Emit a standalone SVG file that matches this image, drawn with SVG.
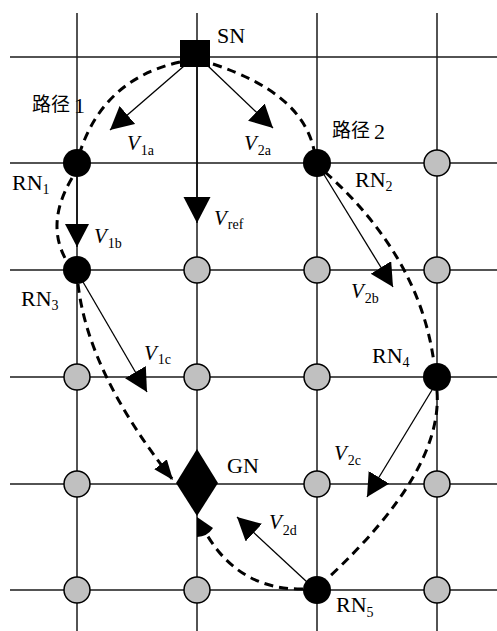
<svg xmlns="http://www.w3.org/2000/svg" width="497" height="631" viewBox="0 0 497 631">
<defs>
<style>
.grid{stroke:#1a1a1a;stroke-width:1.5;fill:none}
.dash{stroke:#000;stroke-width:3;fill:none;stroke-dasharray:9 6}
.vec{stroke:#000;stroke-width:1.3;fill:none}
.rn{fill:#000}
.gray{fill:#c0c0c0;stroke:#000;stroke-width:1.5}
.lbl{font-family:"Liberation Serif","Times New Roman",serif;font-size:22px;fill:#000}
.v{font-family:"Liberation Serif","Times New Roman",serif;font-size:21px;font-style:italic;fill:#000}
.sub{font-family:"Liberation Serif","Times New Roman",serif;font-size:14px;font-style:normal;fill:#000}
.cn{font-family:"Noto Sans CJK SC","Noto Sans CJK JP",sans-serif;font-size:19px;fill:#000}
</style>
<marker id="ah" markerUnits="userSpaceOnUse" markerWidth="24" markerHeight="26" refX="23" refY="12" orient="auto">
<path d="M0,0 L23,12 L0,24 Z" fill="#000"/>
</marker>
<marker id="ahBig" markerUnits="userSpaceOnUse" markerWidth="28" markerHeight="28" refX="26" refY="13.5" orient="auto">
<path d="M0,0 L26,13.5 L0,27 Z" fill="#000"/>
</marker>
<marker id="ahd" markerUnits="userSpaceOnUse" markerWidth="22" markerHeight="18" refX="20" refY="8" orient="auto">
<path d="M0,0 L20,8 L0,16 Z" fill="#000"/>
</marker>
</defs>
<rect width="497" height="631" fill="#fff"/>

<g id="grid" class="grid">
<line x1="77" y1="13" x2="77" y2="631"/>
<line x1="197" y1="13" x2="197" y2="631"/>
<line x1="317" y1="13" x2="317" y2="631"/>
<line x1="437" y1="13" x2="437" y2="631"/>
<line x1="10" y1="57" x2="497" y2="57"/>
<line x1="10" y1="163" x2="497" y2="163"/>
<line x1="10" y1="270" x2="497" y2="270"/>
<line x1="10" y1="377" x2="497" y2="377"/>
<line x1="10" y1="484" x2="497" y2="484"/>
<line x1="10" y1="590" x2="497" y2="590"/>
</g>

<g id="connectors">
<path class="dash" d="M180,62 Q104,79 80,152"/>
<path class="dash" d="M72,178 Q46,222 65,258"/>
<path class="dash" d="M78,284 Q88,373 173,480" marker-end="url(#ahd)"/>
<path class="dash" d="M213,64 Q302,93 314,150"/>
<path class="dash" d="M325,172 Q420,257 434,363"/>
<path class="dash" d="M437,391 Q443,471 328,578"/>
<path class="dash" d="M303,589 Q240,590 207,535"/>
<path d="M197,517 L213,528 A20,20 0 0 1 197,537 Z" fill="#000"/>
<line class="vec" x1="184" y1="66" x2="110" y2="130" marker-end="url(#ah)"/>
<line class="vec" x1="208" y1="66" x2="273" y2="128" marker-end="url(#ah)"/>
<line class="vec" x1="197" y1="67" x2="197" y2="223" marker-end="url(#ahBig)"/>
<line class="vec" x1="77" y1="177" x2="77" y2="247" marker-end="url(#ah)"/>
<line class="vec" x1="83" y1="282" x2="147" y2="392" marker-end="url(#ah)"/>
<line class="vec" x1="323" y1="173" x2="393" y2="287" marker-end="url(#ah)"/>
<line class="vec" x1="432" y1="390" x2="367" y2="497" marker-end="url(#ah)"/>
<line class="vec" x1="307" y1="582" x2="237" y2="517" marker-end="url(#ah)"/>
</g>

<g id="SN"><rect x="180" y="40" width="30" height="27" fill="#000"/><text class="lbl" x="217" y="43">SN</text></g>
<g id="RN1"><circle class="rn" cx="77" cy="163" r="14"/><text class="lbl" x="12" y="190">RN<tspan class="sub" dy="4">1</tspan></text></g>
<g id="RN2"><circle class="rn" cx="317" cy="163" r="14"/><text class="lbl" x="355" y="187">RN<tspan class="sub" dy="4">2</tspan></text></g>
<g id="RN3"><circle class="rn" cx="77" cy="270" r="14"/><text class="lbl" x="21" y="306">RN<tspan class="sub" dy="4">3</tspan></text></g>
<g id="RN4"><circle class="rn" cx="437" cy="377" r="14"/><text class="lbl" x="372" y="363">RN<tspan class="sub" dy="4">4</tspan></text></g>
<g id="RN5"><circle class="rn" cx="317" cy="590" r="14"/><text class="lbl" x="336" y="612">RN<tspan class="sub" dy="5">5</tspan></text></g>
<g id="GN"><path d="M197,449 L218,483 L197,516 L176,483 Z" fill="#000"/><text class="lbl" x="227" y="473">GN</text></g>

<g id="gray-nodes">
<circle class="gray" cx="437" cy="163" r="13"/>
<circle class="gray" cx="197" cy="270" r="13"/>
<circle class="gray" cx="317" cy="270" r="13"/>
<circle class="gray" cx="437" cy="270" r="13"/>
<circle class="gray" cx="77" cy="377" r="13"/>
<circle class="gray" cx="197" cy="377" r="13"/>
<circle class="gray" cx="317" cy="377" r="13"/>
<circle class="gray" cx="77" cy="484" r="13"/>
<circle class="gray" cx="317" cy="484" r="13"/>
<circle class="gray" cx="437" cy="484" r="13"/>
<circle class="gray" cx="77" cy="590" r="13"/>
<circle class="gray" cx="197" cy="590" r="13"/>
<circle class="gray" cx="437" cy="590" r="13"/>
</g>

<g id="labels">
<text class="cn" x="32" y="111">路径<tspan class="lbl" dx="4" y="113">1</tspan></text>
<text class="cn" x="332" y="137">路径<tspan class="lbl" dx="4" y="139">2</tspan></text>
<text class="v" x="127" y="150">V<tspan class="sub" dx="1" dy="5">1a</tspan></text>
<text class="v" x="244" y="150">V<tspan class="sub" dx="1" dy="5">2a</tspan></text>
<text class="v" x="94" y="243">V<tspan class="sub" dx="1" dy="5">1b</tspan></text>
<text class="v" x="214" y="225">V<tspan class="sub" dx="1" dy="4">ref</tspan></text>
<text class="v" x="144" y="360">V<tspan class="sub" dx="1" dy="4">1c</tspan></text>
<text class="v" x="351" y="298">V<tspan class="sub" dx="1" dy="5">2b</tspan></text>
<text class="v" x="334" y="460">V<tspan class="sub" dx="1" dy="5">2c</tspan></text>
<text class="v" x="269" y="529">V<tspan class="sub" dx="1" dy="6">2d</tspan></text>
</g>
</svg>
